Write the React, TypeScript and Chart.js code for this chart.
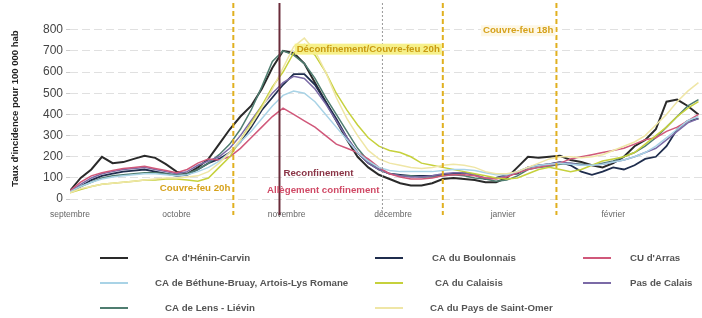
import React, { useEffect, useRef } from 'react';
import { Chart, registerables } from 'chart.js';

Chart.register(...registerables);

// ---- data ----
const days = [0, 3, 6, 9, 12, 15, 18, 21, 24, 27, 30, 33, 36, 39, 42, 45, 48, 51, 54, 57, 60, 63, 66, 69, 72, 75, 78, 81, 84, 87, 90, 93, 96, 99, 102, 105, 108, 111, 114, 117, 120, 123, 126, 129, 132, 135, 138, 141, 144, 147, 150, 153, 156, 159, 162, 165, 168, 171, 174, 177];

const monthTickDays = [0, 30, 61, 91, 122, 153];
const monthLabels = ['septembre', 'octobre', 'novembre', 'décembre', 'janvier', 'février'];
const yTickValues = [0, 100, 200, 300, 400, 500, 600, 700, 800];

const heninCarvin = [40, 100, 140, 200, 170, 175, 190, 205, 195, 165, 130, 120, 150, 190, 260, 330, 390, 440, 520, 620, 700, 690, 640, 550, 460, 370, 280, 200, 150, 115, 95, 75, 65, 65, 75, 95, 100, 95, 90, 80, 80, 100, 150, 200, 195, 200, 205, 185, 175, 160, 150, 170, 200, 250, 280, 330, 460, 470, 440, 400];
const bethuneBruay = [35, 60, 80, 95, 105, 110, 115, 120, 120, 115, 110, 115, 130, 150, 180, 220, 270, 320, 380, 440, 490, 510, 500, 460, 400, 340, 280, 220, 180, 150, 135, 130, 130, 130, 130, 135, 140, 140, 135, 125, 115, 115, 130, 150, 160, 165, 170, 165, 160, 160, 165, 175, 185, 200, 220, 250, 290, 330, 370, 390];
const lensLievin = [35, 60, 80, 100, 110, 115, 120, 125, 125, 120, 115, 120, 140, 170, 210, 260, 330, 420, 530, 650, 700, 680, 640, 570, 480, 400, 320, 240, 180, 140, 120, 110, 110, 105, 105, 110, 115, 110, 100, 95, 85, 90, 110, 140, 150, 155, 165, 170, 165, 160, 170, 180, 200, 220, 250, 290, 340, 390, 440, 470];
const boulonnais = [35, 60, 90, 110, 120, 130, 135, 140, 130, 120, 110, 115, 140, 170, 190, 220, 270, 340, 420, 480, 540, 590, 590, 540, 460, 380, 290, 220, 170, 140, 120, 115, 110, 110, 110, 115, 120, 125, 115, 95, 100, 115, 120, 150, 160, 165, 175, 160, 130, 115, 130, 150, 140, 160, 190, 200, 250, 330, 370, 380];
const calaisis = [30, 45, 60, 70, 75, 80, 85, 90, 90, 95, 95, 90, 85, 100, 150, 200, 280, 360, 440, 530, 600, 690, 730, 680, 600, 500, 420, 350, 290, 250, 230, 220, 200, 170, 160, 150, 140, 130, 120, 110, 100, 95, 100, 120, 140, 150, 140, 130, 140, 160, 180, 190, 200, 220, 260, 300, 340, 390, 430, 460];
const saintOmer = [30, 50, 60, 70, 75, 80, 85, 90, 95, 100, 100, 105, 110, 130, 170, 220, 280, 350, 430, 520, 620, 720, 760, 700, 600, 480, 380, 300, 230, 190, 170, 160, 150, 145, 150, 160, 165, 160, 150, 130, 120, 120, 130, 150, 170, 190, 200, 200, 195, 200, 210, 230, 250, 270, 300, 350, 400, 460, 510, 550];
const arras = [40, 80, 110, 125, 135, 145, 150, 155, 145, 135, 125, 140, 170, 190, 185, 200, 240, 290, 340, 390, 430, 400, 370, 340, 300, 260, 240, 220, 190, 150, 120, 105, 95, 95, 100, 110, 115, 115, 110, 100, 95, 105, 125, 140, 150, 160, 170, 190, 200, 210, 220, 230, 240, 260, 280, 290, 320, 340, 370, 400];
const pasDeCalais = [35, 70, 100, 120, 130, 140, 145, 150, 140, 130, 120, 130, 160, 180, 200, 240, 300, 370, 440, 500, 550, 580, 570, 520, 450, 370, 290, 220, 170, 140, 120, 110, 105, 105, 110, 120, 125, 125, 115, 100, 100, 110, 130, 150, 160, 165, 175, 170, 160, 160, 165, 175, 185, 200, 220, 240, 280, 320, 360, 380];

const seriesNames = ["CA d'Hénin-Carvin", 'CA de Béthune-Bruay, Artois-Lys Romane', 'CA de Lens - Liévin', 'CA du Boulonnais', 'CA du Calaisis', 'CA du Pays de Saint-Omer', "CU d'Arras", 'Pas de Calais'];
const seriesValues = [heninCarvin, bethuneBruay, lensLievin, boulonnais, calaisis, saintOmer, arras, pasDeCalais];

const eventDays = [46, 59, 88, 105, 137];
const eventLabels = ['Couvre-feu 20h', 'Reconfinement', 'Allègement confinement', 'Déconfinement/Couvre-feu 20h', 'Couvre-feu 18h'];
const eventLabelValues = [50, 120, 41, 708, 795];

// ---- styles ----
const seriesColors = ['#2a2a2a', '#a9d3e6', '#4f7d70', '#1f2d4d', '#c6d13c', '#efe6a6', '#d0587a', '#7b6aa6'];
const seriesWidths = [2, 1.5, 1.5, 1.8, 1.5, 1.5, 1.5, 1.5];
const drawOrder = [5, 1, 4, 6, 7, 2, 3, 0];
const legendPos = [
  [100, 258, 165], [100, 283, 155], [100, 308, 165],
  [375, 258, 432], [375, 283, 435], [375, 308, 430],
  [583, 258, 630], [583, 283, 630],
];
const eventStyles = [
  { color: '#e0b020', width: 2, dash: [5, 3], text: '#d6a21c', align: 'right', bg: '' },
  { color: '#6a2c3a', width: 2, dash: [], text: '#8a3446', align: 'left', bg: '' },
  { color: '#9a9a9a', width: 1, dash: [2, 2], text: '#d04a66', align: 'right', bg: '' },
  { color: '#e0b020', width: 2, dash: [5, 3], text: '#c99a10', align: 'right', bg: '#f6f08a' },
  { color: '#e0b020', width: 2, dash: [5, 3], text: '#d6a21c', align: 'right', bg: '#fdf7e6' },
];

const FONT = "'Liberation Sans', Arial, sans-serif";

const overlayPlugin = {
  id: 'overlay',
  afterDatasetsDraw(chart: any) {
    const { ctx, scales } = chart;
    const xs = scales.x;
    const ys = scales.y;
    ctx.save();
    eventDays.forEach((d, i) => {
      const st = eventStyles[i];
      const px = xs.getPixelForValue(d);
      ctx.beginPath();
      ctx.strokeStyle = st.color;
      ctx.lineWidth = st.width;
      ctx.setLineDash(st.dash);
      ctx.moveTo(px, 3);
      ctx.lineTo(px, 215);
      ctx.stroke();
    });
    ctx.setLineDash([]);
    ctx.font = `bold 9.7px ${FONT}`;
    ctx.textBaseline = 'middle';
    eventDays.forEach((d, i) => {
      const st = eventStyles[i];
      const px = xs.getPixelForValue(d);
      const py = ys.getPixelForValue(eventLabelValues[i]);
      const label = eventLabels[i];
      const w = ctx.measureText(label).width;
      const tx = st.align === 'right' ? px - 3 - w : px + 4;
      if (st.bg) {
        ctx.fillStyle = st.bg;
        ctx.fillRect(tx - 2, py - 5.5, w + 4, 11);
      }
      ctx.fillStyle = st.text;
      ctx.textAlign = 'left';
      ctx.fillText(label, tx, py);
    });
    ctx.restore();
  },
  afterDraw(chart: any) {
    const { ctx } = chart;
    ctx.save();
    ctx.font = `bold 9.7px ${FONT}`;
    ctx.textBaseline = 'middle';
    ctx.textAlign = 'left';
    chart.data.datasets.forEach((ds: any) => {
      const idx = ds.seriesIndex;
      const [sx, sy, tx] = legendPos[idx];
      ctx.beginPath();
      ctx.strokeStyle = ds.borderColor;
      ctx.lineWidth = 2;
      ctx.moveTo(sx, sy);
      ctx.lineTo(sx + 28, sy);
      ctx.stroke();
      ctx.fillStyle = '#555';
      ctx.fillText(ds.label, tx, sy);
    });
    ctx.restore();
  },
};

export default function App() {
  const ref = useRef<HTMLCanvasElement>(null);
  useEffect(() => {
    document.body.style.margin = '0';
    const datasets = drawOrder.map((i) => ({
      label: seriesNames[i],
      seriesIndex: i,
      data: days.map((d, k) => ({ x: d, y: seriesValues[i][k] })),
      borderColor: seriesColors[i],
      backgroundColor: seriesColors[i],
      borderWidth: seriesWidths[i],
      pointRadius: 0,
      tension: 0,
      fill: false,
    }));
    const chart = new Chart(ref.current as HTMLCanvasElement, {
      type: 'line',
      data: { datasets } as any,
      options: {
        animation: false,
        responsive: false,
        maintainAspectRatio: false,
        layout: { padding: { top: 5, bottom: 88, left: 0, right: 0 } },
        plugins: { legend: { display: false }, tooltip: { enabled: false } },
        scales: {
          x: {
            type: 'linear',
            min: 0,
            max: 178,
            afterBuildTicks: (s: any) => { s.ticks = monthTickDays.map((v) => ({ value: v })); },
            afterFit: (s: any) => { s.height = 23; },
            grid: { display: false, drawTicks: false },
            border: { display: false },
            ticks: {
              autoSkip: false,
              maxRotation: 0,
              padding: 3,
              color: '#666',
              font: { family: FONT, size: 8.5 },
              callback: (v: any) => monthLabels[monthTickDays.indexOf(Number(v))] ?? '',
            },
          },
          y: {
            type: 'linear',
            min: -37,
            max: 892,
            afterBuildTicks: (s: any) => { s.ticks = yTickValues.map((v) => ({ value: v })); },
            afterFit: (s: any) => { s.width = 70; },
            grid: { color: '#e0e0e0', tickColor: '#cccccc', tickLength: 4, lineWidth: 1 },
            border: { display: false, dash: [8, 4] },
            ticks: {
              padding: 3,
              color: '#444',
              font: { family: FONT, size: 12 },
            },
            title: {
              display: true,
              text: "Taux d'incidence pour 100 000 hab",
              color: '#222',
              font: { family: FONT, size: 9.5, weight: 'bold' },
              padding: { top: 10, bottom: 0 },
            },
          },
        },
      } as any,
      plugins: [overlayPlugin],
    });
    return () => chart.destroy();
  }, []);
  return <canvas ref={ref} width={702} height={318} style={{ display: 'block' }} />;
}
